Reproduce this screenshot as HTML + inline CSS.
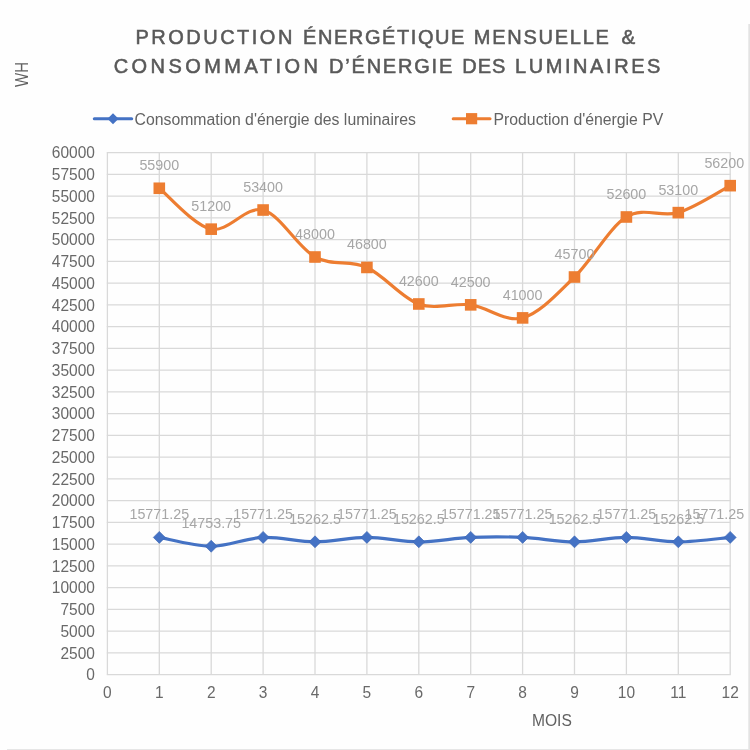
<!DOCTYPE html>
<html><head><meta charset="utf-8"><style>
html,body{margin:0;padding:0;background:#fefefe;}
svg{display:block;will-change:transform;font-family:"Liberation Sans",sans-serif;}
</style></head><body>
<svg width="750" height="750" viewBox="0 0 750 750">
<rect width="750" height="750" fill="#fefefe"/>
<g stroke="#d9d9d9" stroke-width="1.3" fill="none"><line x1="106.80" y1="674.60" x2="730.80" y2="674.60"/><line x1="106.80" y1="652.85" x2="730.80" y2="652.85"/><line x1="106.80" y1="631.10" x2="730.80" y2="631.10"/><line x1="106.80" y1="609.35" x2="730.80" y2="609.35"/><line x1="106.80" y1="587.60" x2="730.80" y2="587.60"/><line x1="106.80" y1="565.85" x2="730.80" y2="565.85"/><line x1="106.80" y1="544.10" x2="730.80" y2="544.10"/><line x1="106.80" y1="522.35" x2="730.80" y2="522.35"/><line x1="106.80" y1="500.60" x2="730.80" y2="500.60"/><line x1="106.80" y1="478.85" x2="730.80" y2="478.85"/><line x1="106.80" y1="457.10" x2="730.80" y2="457.10"/><line x1="106.80" y1="435.35" x2="730.80" y2="435.35"/><line x1="106.80" y1="413.60" x2="730.80" y2="413.60"/><line x1="106.80" y1="391.85" x2="730.80" y2="391.85"/><line x1="106.80" y1="370.10" x2="730.80" y2="370.10"/><line x1="106.80" y1="348.35" x2="730.80" y2="348.35"/><line x1="106.80" y1="326.60" x2="730.80" y2="326.60"/><line x1="106.80" y1="304.85" x2="730.80" y2="304.85"/><line x1="106.80" y1="283.10" x2="730.80" y2="283.10"/><line x1="106.80" y1="261.35" x2="730.80" y2="261.35"/><line x1="106.80" y1="239.60" x2="730.80" y2="239.60"/><line x1="106.80" y1="217.85" x2="730.80" y2="217.85"/><line x1="106.80" y1="196.10" x2="730.80" y2="196.10"/><line x1="106.80" y1="174.35" x2="730.80" y2="174.35"/><line x1="106.80" y1="152.60" x2="730.80" y2="152.60"/><line x1="107.40" y1="152.60" x2="107.40" y2="674.60"/><line x1="159.30" y1="152.60" x2="159.30" y2="674.60"/><line x1="211.20" y1="152.60" x2="211.20" y2="674.60"/><line x1="263.10" y1="152.60" x2="263.10" y2="674.60"/><line x1="315.00" y1="152.60" x2="315.00" y2="674.60"/><line x1="366.90" y1="152.60" x2="366.90" y2="674.60"/><line x1="418.80" y1="152.60" x2="418.80" y2="674.60"/><line x1="470.70" y1="152.60" x2="470.70" y2="674.60"/><line x1="522.60" y1="152.60" x2="522.60" y2="674.60"/><line x1="574.50" y1="152.60" x2="574.50" y2="674.60"/><line x1="626.40" y1="152.60" x2="626.40" y2="674.60"/><line x1="678.30" y1="152.60" x2="678.30" y2="674.60"/><line x1="730.20" y1="152.60" x2="730.20" y2="674.60"/></g>
<g font-size="15.5" fill="#696969" text-anchor="end"><text transform="translate(94.9,680.40) scale(1,1.08)">0</text><text transform="translate(94.9,658.65) scale(1,1.08)">2500</text><text transform="translate(94.9,636.90) scale(1,1.08)">5000</text><text transform="translate(94.9,615.15) scale(1,1.08)">7500</text><text transform="translate(94.9,593.40) scale(1,1.08)">10000</text><text transform="translate(94.9,571.65) scale(1,1.08)">12500</text><text transform="translate(94.9,549.90) scale(1,1.08)">15000</text><text transform="translate(94.9,528.15) scale(1,1.08)">17500</text><text transform="translate(94.9,506.40) scale(1,1.08)">20000</text><text transform="translate(94.9,484.65) scale(1,1.08)">22500</text><text transform="translate(94.9,462.90) scale(1,1.08)">25000</text><text transform="translate(94.9,441.15) scale(1,1.08)">27500</text><text transform="translate(94.9,419.40) scale(1,1.08)">30000</text><text transform="translate(94.9,397.65) scale(1,1.08)">32500</text><text transform="translate(94.9,375.90) scale(1,1.08)">35000</text><text transform="translate(94.9,354.15) scale(1,1.08)">37500</text><text transform="translate(94.9,332.40) scale(1,1.08)">40000</text><text transform="translate(94.9,310.65) scale(1,1.08)">42500</text><text transform="translate(94.9,288.90) scale(1,1.08)">45000</text><text transform="translate(94.9,267.15) scale(1,1.08)">47500</text><text transform="translate(94.9,245.40) scale(1,1.08)">50000</text><text transform="translate(94.9,223.65) scale(1,1.08)">52500</text><text transform="translate(94.9,201.90) scale(1,1.08)">55000</text><text transform="translate(94.9,180.15) scale(1,1.08)">57500</text><text transform="translate(94.9,158.40) scale(1,1.08)">60000</text></g>
<g font-size="15.5" fill="#696969" text-anchor="middle"><text transform="translate(107.40,698.0) scale(1,1.08)">0</text><text transform="translate(159.30,698.0) scale(1,1.08)">1</text><text transform="translate(211.20,698.0) scale(1,1.08)">2</text><text transform="translate(263.10,698.0) scale(1,1.08)">3</text><text transform="translate(315.00,698.0) scale(1,1.08)">4</text><text transform="translate(366.90,698.0) scale(1,1.08)">5</text><text transform="translate(418.80,698.0) scale(1,1.08)">6</text><text transform="translate(470.70,698.0) scale(1,1.08)">7</text><text transform="translate(522.60,698.0) scale(1,1.08)">8</text><text transform="translate(574.50,698.0) scale(1,1.08)">9</text><text transform="translate(626.40,698.0) scale(1,1.08)">10</text><text transform="translate(678.30,698.0) scale(1,1.08)">11</text><text transform="translate(730.20,698.0) scale(1,1.08)">12</text></g>
<path d="M159.30,188.27 C167.95,195.09 193.90,225.53 211.20,229.16 C228.50,232.78 245.80,205.38 263.10,210.02 C280.40,214.66 297.70,247.43 315.00,257.00 C332.30,266.57 349.60,259.61 366.90,267.44 C384.20,275.27 401.50,297.75 418.80,303.98 C436.10,310.22 453.40,302.53 470.70,304.85 C488.00,307.17 505.30,322.54 522.60,317.90 C539.90,313.26 557.20,293.83 574.50,277.01 C591.80,260.19 609.10,227.71 626.40,216.98 C643.70,206.25 661.00,217.85 678.30,212.63 C695.60,207.41 721.55,190.16 730.20,185.66" stroke="#ED7D31" stroke-width="3.2" fill="none" stroke-linejoin="round"/><path d="M159.30,537.39 C167.95,538.87 193.90,546.24 211.20,546.24 C228.50,546.24 245.80,538.13 263.10,537.39 C280.40,536.65 297.70,541.82 315.00,541.82 C332.30,541.82 349.60,537.39 366.90,537.39 C384.20,537.39 401.50,541.82 418.80,541.82 C436.10,541.82 453.40,538.13 470.70,537.39 C488.00,536.65 505.30,536.65 522.60,537.39 C539.90,538.13 557.20,541.82 574.50,541.82 C591.80,541.82 609.10,537.39 626.40,537.39 C643.70,537.39 661.00,541.82 678.30,541.82 C695.60,541.82 721.55,538.13 730.20,537.39" stroke="#4472C4" stroke-width="3.2" fill="none" stroke-linejoin="round"/>
<rect x="153.50" y="182.47" width="11.60" height="11.60" fill="#ED7D31"/><rect x="205.40" y="223.36" width="11.60" height="11.60" fill="#ED7D31"/><rect x="257.30" y="204.22" width="11.60" height="11.60" fill="#ED7D31"/><rect x="309.20" y="251.20" width="11.60" height="11.60" fill="#ED7D31"/><rect x="361.10" y="261.64" width="11.60" height="11.60" fill="#ED7D31"/><rect x="413.00" y="298.18" width="11.60" height="11.60" fill="#ED7D31"/><rect x="464.90" y="299.05" width="11.60" height="11.60" fill="#ED7D31"/><rect x="516.80" y="312.10" width="11.60" height="11.60" fill="#ED7D31"/><rect x="568.70" y="271.21" width="11.60" height="11.60" fill="#ED7D31"/><rect x="620.60" y="211.18" width="11.60" height="11.60" fill="#ED7D31"/><rect x="672.50" y="206.83" width="11.60" height="11.60" fill="#ED7D31"/><rect x="724.40" y="179.86" width="11.60" height="11.60" fill="#ED7D31"/><path d="M159.30,531.39 L165.30,537.39 L159.30,543.39 L153.30,537.39Z" fill="#4472C4" stroke="#3b64b4" stroke-width="0.6"/><path d="M211.20,540.24 L217.20,546.24 L211.20,552.24 L205.20,546.24Z" fill="#4472C4" stroke="#3b64b4" stroke-width="0.6"/><path d="M263.10,531.39 L269.10,537.39 L263.10,543.39 L257.10,537.39Z" fill="#4472C4" stroke="#3b64b4" stroke-width="0.6"/><path d="M315.00,535.82 L321.00,541.82 L315.00,547.82 L309.00,541.82Z" fill="#4472C4" stroke="#3b64b4" stroke-width="0.6"/><path d="M366.90,531.39 L372.90,537.39 L366.90,543.39 L360.90,537.39Z" fill="#4472C4" stroke="#3b64b4" stroke-width="0.6"/><path d="M418.80,535.82 L424.80,541.82 L418.80,547.82 L412.80,541.82Z" fill="#4472C4" stroke="#3b64b4" stroke-width="0.6"/><path d="M470.70,531.39 L476.70,537.39 L470.70,543.39 L464.70,537.39Z" fill="#4472C4" stroke="#3b64b4" stroke-width="0.6"/><path d="M522.60,531.39 L528.60,537.39 L522.60,543.39 L516.60,537.39Z" fill="#4472C4" stroke="#3b64b4" stroke-width="0.6"/><path d="M574.50,535.82 L580.50,541.82 L574.50,547.82 L568.50,541.82Z" fill="#4472C4" stroke="#3b64b4" stroke-width="0.6"/><path d="M626.40,531.39 L632.40,537.39 L626.40,543.39 L620.40,537.39Z" fill="#4472C4" stroke="#3b64b4" stroke-width="0.6"/><path d="M678.30,535.82 L684.30,541.82 L678.30,547.82 L672.30,541.82Z" fill="#4472C4" stroke="#3b64b4" stroke-width="0.6"/><path d="M730.20,531.39 L736.20,537.39 L730.20,543.39 L724.20,537.39Z" fill="#4472C4" stroke="#3b64b4" stroke-width="0.6"/>
<g font-size="14.3" fill="#a6a6a6" text-anchor="middle"><text x="159.30" y="170.27">55900</text><text x="211.20" y="211.16">51200</text><text x="263.10" y="192.02">53400</text><text x="315.00" y="239.00">48000</text><text x="366.90" y="249.44">46800</text><text x="418.80" y="285.98">42600</text><text x="470.70" y="286.85">42500</text><text x="522.60" y="299.90">41000</text><text x="574.50" y="259.01">45700</text><text x="626.40" y="198.98">52600</text><text x="678.30" y="194.63">53100</text><text x="724.32" y="167.66">56200</text><text x="159.30" y="519.39">15771.25</text><text x="211.20" y="528.24">14753.75</text><text x="263.10" y="519.39">15771.25</text><text x="315.00" y="523.82">15262.5</text><text x="366.90" y="519.39">15771.25</text><text x="418.80" y="523.82">15262.5</text><text x="470.70" y="519.39">15771.25</text><text x="522.60" y="519.39">15771.25</text><text x="574.50" y="523.82">15262.5</text><text x="626.40" y="519.39">15771.25</text><text x="678.30" y="523.82">15262.5</text><text x="714.38" y="519.39">15771.25</text></g>
<g font-size="20" fill="#595959" stroke="#595959" stroke-width="0.55"><text x="135.50" y="44" letter-spacing="2.489">PRODUCTION</text><text x="303.00" y="44" letter-spacing="1.580">ÉNERGÉTIQUE</text><text x="473.80" y="44" letter-spacing="1.738">MENSUELLE</text><text x="113.70" y="73" letter-spacing="3.445">CONSOMMATION</text><text x="329.00" y="73" letter-spacing="1.800">D’ÉNERGIE</text><text x="462.20" y="73" letter-spacing="1.000">DES</text><text x="515.00" y="73" letter-spacing="2.578">LUMINAIRES</text><text x="621.5" y="44" font-size="20.5">&amp;</text></g>
<text transform="translate(27.9,87) rotate(-90) scale(0.98,1.14)" font-size="15.3" fill="#616161">WH</text>
<text x="532" y="725.6" font-size="15.6" fill="#616161">MOIS</text>
<line x1="94.3" y1="118.7" x2="131.7" y2="118.7" stroke="#4472C4" stroke-width="3" stroke-linecap="round"/><path d="M113,113.2 L118.5,118.7 L113,124.2 L107.5,118.7Z" fill="#4472C4"/><text x="134.5" y="124.5" font-size="15.8" fill="#636363">Consommation d'énergie des luminaires</text><line x1="453.2" y1="118.7" x2="490" y2="118.7" stroke="#ED7D31" stroke-width="3" stroke-linecap="round"/><rect x="466" y="113.1" width="11.2" height="11.2" fill="#ED7D31"/><text x="493.5" y="124.5" font-size="15.8" fill="#636363">Production d'énergie PV</text>
<line x1="749.2" y1="24" x2="749.2" y2="750" stroke="#e3e3e3" stroke-width="1.8"/><line x1="7" y1="749.5" x2="750" y2="749.5" stroke="#e6e6e6" stroke-width="1.2"/>
</svg>
</body></html>
